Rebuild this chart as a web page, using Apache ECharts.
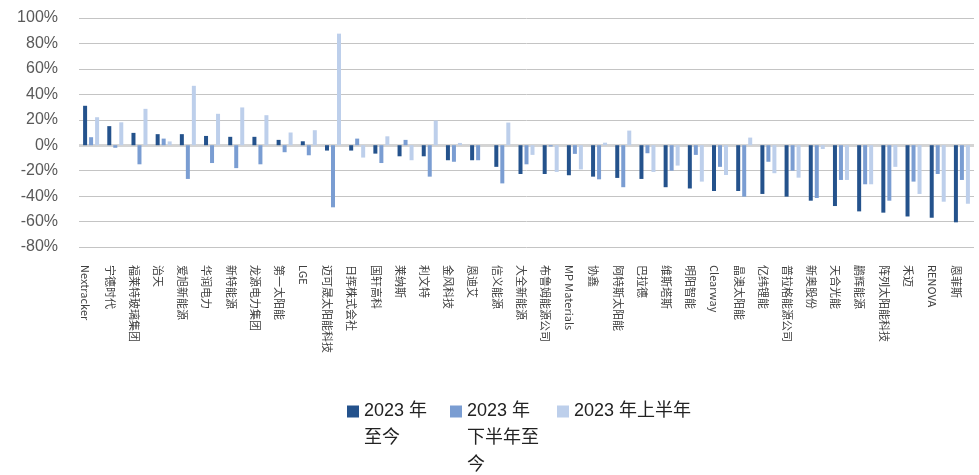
<!DOCTYPE html>
<html>
<head>
<meta charset="utf-8">
<script src="https://cdn.jsdelivr.net/npm/echarts@6/dist/echarts.min.js"></script>
<style>
html,body{margin:0;padding:0;background:#fff;}
#c{width:979px;height:475px;}
</style>
</head>
<body>
<div id="c"></div>
<script>
const categories = ["Nextracker","宁德时代","福莱特玻璃集团","治天","爱旭新能源","华润电力","新特能源","龙源电力集团","第一太阳能","LGE",
"迈可晟太阳能科技","日挥株式会社","国轩高科","莱纳斯","利文特","金风科技","恩迪艾","信义能源","大全新能源","布鲁姆能源公司",
"MP Materials","协鑫","阿特斯太阳能","巴拉德","维斯塔斯","明阳智能","Clearway","晶澳太阳能","亿纬锂能","普拉格能源公司",
"新奥股份","天合光能","鹏辉能源","阵列太阳能科技","禾迈","RENOVA","恩菲斯"];
const seriesNames = ["2023 年至今","2023 年下半年至今","2023 年上半年"];
const ytd = [31,15,9.7,8.7,8.7,7.3,6.6,6.6,4.2,3.1,
-4.2,-4.2,-6.6,-8.7,-8.7,-11.8,-11.8,-17,-22.6,-22.6,
-23.6,-24.7,-25.7,-26.5,-33,-34,-36,-36,-38.3,-40.4,
-43.6,-47.8,-52,-53,-56,-57,-60.6];
const h2 = [6.3,-2,-15,5.2,-26.5,-14,-18,-15,-5.5,-7.9,
-48.8,5.2,-14,4.2,-24.7,-13,-11.8,-30,-15,-1,
-6.8,-26.8,-33,-6.3,-20,-7.6,-17,-40.4,-13,-20,
-41.5,-27.3,-30.7,-43.6,-28.6,-22.6,-27.3];
const h1 = [22,18,28.6,3,46.7,24.7,29.7,23.6,10,11.8,
87.7,-9.7,7,-11.8,19.4,1.8,0,17.8,-7.6,-21,
-19,2,11.5,-21,-16,-28.6,-23.4,6,-22,-25.5,
-3,-27.3,-30.7,-17,-38.3,-44.4,-46];
const yTicks = {min:-80,max:100,interval:20};
const legendText = ["\n2023 年\n至今","\n\n2023 年\n下半年至\n今","2023 年上半年"];

const colors = ["#24528C","#7A9DD2","#BDCFEB"];
const chart = echarts.init(document.getElementById('c'));
const legendFont = {fontSize:18,lineHeight:27,color:'#222',fontFamily:'Liberation Sans, "Noto Sans CJK SC"'};
const mkLegend = (i,left,top)=>({
  data:[seriesNames[i]], left:left, top:top, padding:0, itemWidth:12, itemHeight:12, itemGap:0,
  icon:'rect', formatter:()=>legendText[i], textStyle:legendFont, selectedMode:false
});
const vals=[ytd,h2,h1];
chart.setOption({
  animation:false,
  grid:{left:79,right:5,top:18,height:229},
  legend:[mkLegend(0,347,371),mkLegend(1,450,344),mkLegend(2,557,398)],
  xAxis:{type:'category',data:categories,position:'bottom',
    axisLine:{show:false,onZero:false},axisTick:{show:false},
    axisLabel:{interval:0,rotate:-90,margin:18,fontSize:11,color:'#404040',
      fontFamily:'"Noto Sans CJK SC", Liberation Sans',verticalAlign:'top'}},
  yAxis:{type:'value',min:yTicks.min,max:yTicks.max,interval:yTicks.interval,
    axisLine:{show:false},axisTick:{show:false},
    axisLabel:{formatter:'{value}%',fontSize:16,color:'#595959',margin:21,fontFamily:'Liberation Sans'},
    splitLine:{lineStyle:{color:'#c4c4c4',width:1}}},
  series:vals.map((v,i)=>({
    name:seriesNames[i],type:'bar',data:v,barWidth:4,barGap:'50%',
    itemStyle:{color:colors[i]},
    markLine: i===0?{silent:true,symbol:'none',label:{show:false},
      lineStyle:{color:'#d4d4d4',width:3,type:'solid'},data:[{yAxis:0}],z:1}:undefined
  }))
});
</script>
</body>
</html>
